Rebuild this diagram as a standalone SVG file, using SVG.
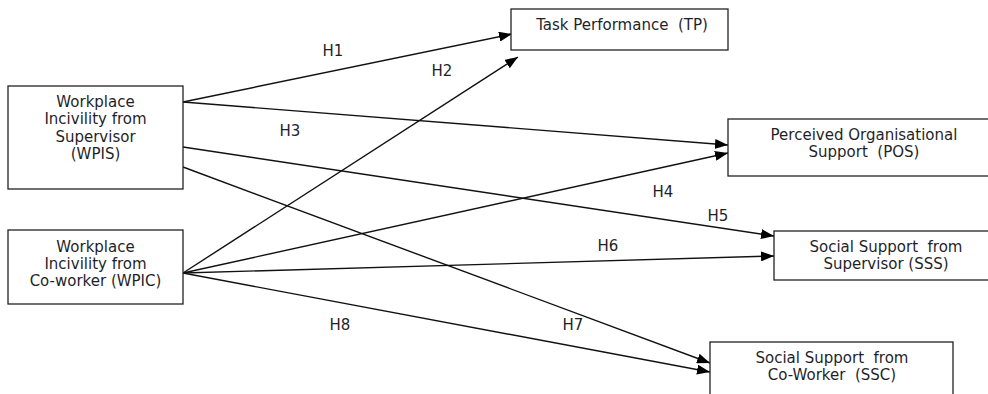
<svg xmlns="http://www.w3.org/2000/svg" width="988" height="394" viewBox="0 0 988 394">
<defs>
<style>
.box{fill:#fff;stroke:#222;stroke-width:1.3}
.t{font-family:"DejaVu Sans",Verdana,sans-serif;font-size:15px;fill:#1f1f2a;text-anchor:middle}
.lbl{font-family:"DejaVu Sans",Verdana,sans-serif;font-size:15px;fill:#1f1f2a;text-anchor:middle}
.c{stroke:#111;stroke-width:1.4;fill:none;marker-end:url(#ah)}
</style>
<marker id="ah" markerUnits="userSpaceOnUse" markerWidth="13" markerHeight="10" refX="13" refY="5" orient="auto">
<path d="M0,0 L13,5 L0,10 z" fill="#000"/>
</marker>
</defs>
<rect width="988" height="394" fill="#fff"/>
<g id="connectors">
<line class="c" x1="183" y1="102" x2="512" y2="34"/>
<line class="c" x1="183" y1="273" x2="518" y2="57"/>
<line class="c" x1="183" y1="102" x2="728" y2="145"/>
<line class="c" x1="183" y1="273" x2="728" y2="153"/>
<line class="c" x1="183" y1="147" x2="774" y2="236"/>
<line class="c" x1="183" y1="273" x2="774" y2="256"/>
<line class="c" x1="183" y1="167" x2="710" y2="363"/>
<line class="c" x1="183" y1="273" x2="710" y2="372"/>
</g>
<g id="labels">
<text class="lbl" x="333" y="56">H1</text>
<text class="lbl" x="442" y="76">H2</text>
<text class="lbl" x="290" y="136">H3</text>
<text class="lbl" x="663" y="197">H4</text>
<text class="lbl" x="718" y="221">H5</text>
<text class="lbl" x="608" y="251">H6</text>
<text class="lbl" x="573" y="330">H7</text>
<text class="lbl" x="340" y="330">H8</text>
</g>
<g id="WPIS">
<rect class="box" x="8" y="86" width="175" height="103"/>
<text class="t" x="95.5" y="107">Workplace</text>
<text class="t" x="95.5" y="124">Incivility from</text>
<text class="t" x="95.5" y="141.5">Supervisor</text>
<text class="t" x="95.5" y="159">(WPIS)</text>
</g>
<g id="WPIC">
<rect class="box" x="8" y="230" width="175" height="74"/>
<text class="t" x="95.5" y="252">Workplace</text>
<text class="t" x="95.5" y="269">Incivility from</text>
<text class="t" x="95.5" y="286">Co-worker (WPIC)</text>
</g>
<g id="TP">
<rect class="box" x="511" y="9" width="217" height="41"/>
<text class="t" x="622" y="30" xml:space="preserve">Task Performance  (TP)</text>
</g>
<g id="POS">
<rect class="box" x="728" y="119" width="272" height="57"/>
<text class="t" x="864" y="140">Perceived Organisational</text>
<text class="t" x="864" y="157" xml:space="preserve">Support  (POS)</text>
</g>
<g id="SSS">
<rect class="box" x="774" y="231" width="224" height="49"/>
<text class="t" x="886" y="252" xml:space="preserve">Social Support  from</text>
<text class="t" x="886" y="268.5">Supervisor (SSS)</text>
</g>
<g id="SSC">
<rect class="box" x="710" y="342" width="243" height="70"/>
<text class="t" x="832" y="363" xml:space="preserve">Social Support  from</text>
<text class="t" x="832" y="380" xml:space="preserve">Co-Worker  (SSC)</text>
</g>
</svg>
